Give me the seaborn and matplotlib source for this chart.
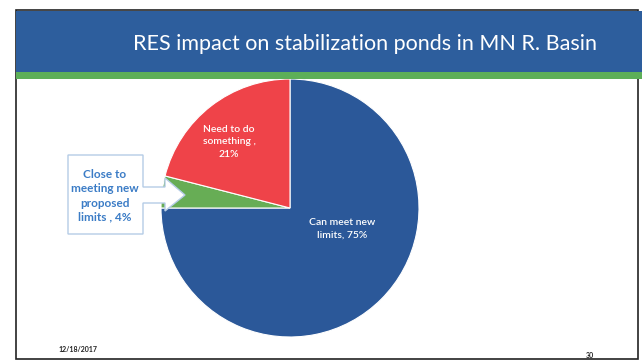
import matplotlib
matplotlib.use("Agg")
import matplotlib.pyplot as plt
import seaborn as sns
from matplotlib.patches import Rectangle, Polygon

# ---- data ----
categories = ["Can meet new\nlimits, 75%", "Close to\nmeeting new\nproposed\nlimits , 4%", "Need to do\nsomething ,\n21%"]
values = [75, 4, 21]
slice_colors = ["#2B5899", "#67AD55", "#EF4349"]
title = "RES impact on stabilization ponds in MN R. Basin"
date_text = "12/18/2017"
page_text = "30"

sns.set_theme(style="white")
plt.rcParams["font.family"] = ["Lato", "DejaVu Sans"]

W, H = 642, 362
fig = plt.figure(figsize=(W / 100, H / 100), dpi=100)
fig.patch.set_facecolor("white")

def px(x, y):
    return (x / W, 1 - y / H)

# slide frame
fig.add_artist(Rectangle(px(16, 359), (638 - 16) / W, (359 - 10) / H, transform=fig.transFigure,
                         facecolor="white", edgecolor="#222222", lw=1.2, zorder=0))
# banner
fig.add_artist(Rectangle(px(16, 72), (W - 16) / W, (72 - 11) / H, transform=fig.transFigure,
                         facecolor="#2D5E9D", edgecolor="none", zorder=1))
fig.add_artist(Rectangle(px(16, 79), (W - 16) / W, 7 / H, transform=fig.transFigure,
                         facecolor="#5DAF58", edgecolor="none", zorder=1))
fig.text(*px(365, 44), title, color="white", fontsize=15.5, ha="center", va="center", zorder=2)

# pie
cx, cy, r = 290, 208, 129
ax = fig.add_axes([(cx - r) / W, (H - cy - r) / H, 2 * r / W, 2 * r / H])
ax.pie(values, colors=slice_colors, startangle=90, counterclock=False,
       wedgeprops=dict(edgecolor="white", linewidth=0.8))
ax.set_xlim(-1, 1)
ax.set_ylim(-1, 1)
ax.set_aspect("auto")
ax.axis("off")

def dpos(x, y):
    return ((x - cx) / r, (cy - y) / r)

ax.text(*dpos(229, 142), categories[2], color="white", fontsize=7.5, fontweight="semibold",
        ha="center", va="center", linespacing=1.5)
ax.text(*dpos(342, 229), categories[0], color="white", fontsize=7.5, fontweight="semibold",
        ha="center", va="center", linespacing=1.5)

# callout
pts = [(68, 155), (143, 155), (143, 187), (165, 187), (165, 178), (185, 195), (165, 211),
       (165, 203), (143, 203), (143, 234), (68, 234)]
fig.add_artist(Polygon([px(x, y) for x, y in pts], closed=True, transform=fig.transFigure,
                       facecolor="white", edgecolor="#B5CCE6", lw=1.0, zorder=5))
fig.text(*px(105, 196), categories[1], color="#3B7CC6", fontsize=8.5, fontweight="bold",
         ha="center", va="center", linespacing=1.35, zorder=6)

# footer
fig.text(*px(78, 350), date_text, color="#222222", fontsize=5, fontweight="bold",
         ha="center", va="center")
fig.text(*px(590, 355), page_text, color="#222222", fontsize=5, fontweight="bold",
         ha="center", va="center")

fig.savefig("out.png", dpi=100)
